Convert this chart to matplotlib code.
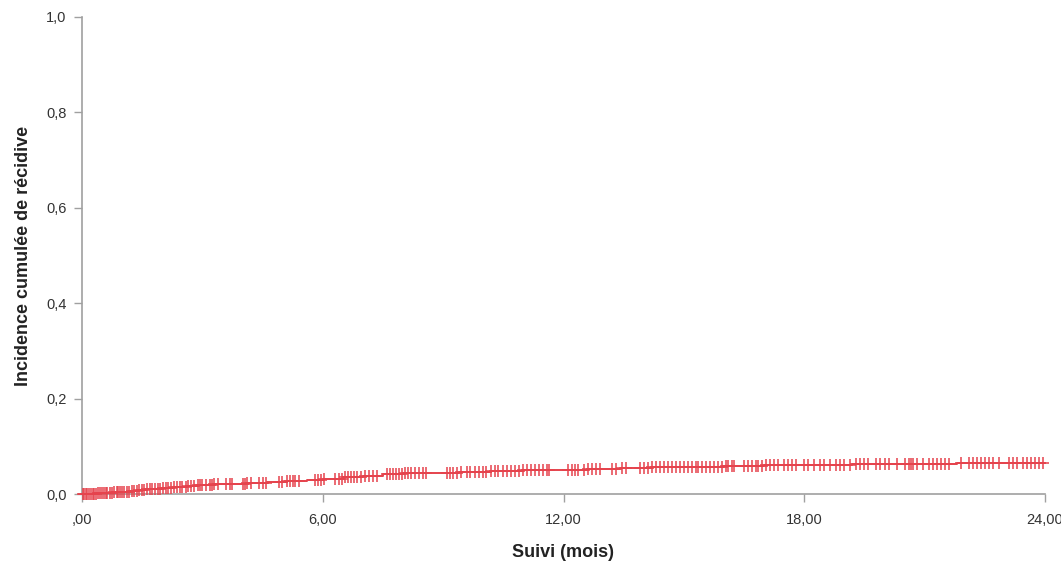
import numpy as np
import matplotlib
matplotlib.use("Agg")
import matplotlib.pyplot as plt

# Step curve: event times (months) and cumulative incidence
event_times = [0, 0.2, 0.4, 0.6, 0.8, 1.0, 1.2, 1.4, 1.6, 1.8, 2.0, 2.3, 2.6, 2.9,
               3.3, 3.7, 4.1, 4.6, 5.1, 5.6, 6.0, 6.5, 7.0, 7.5, 8.0, 8.7, 9.4,
               10.2, 11.0, 11.8, 12.6, 13.4, 14.2, 15.0, 16.0, 17.0, 18.0, 19.2,
               20.5, 21.8, 23.0]
cum_incidence = [0.0, 0.001, 0.002, 0.003, 0.004, 0.005, 0.007, 0.008, 0.010, 0.011,
                 0.013, 0.015, 0.017, 0.019, 0.020, 0.022, 0.024, 0.026, 0.028, 0.030,
                 0.032, 0.035, 0.038, 0.041, 0.043, 0.045, 0.047, 0.048, 0.050, 0.051,
                 0.053, 0.055, 0.056, 0.057, 0.058, 0.060, 0.061, 0.062, 0.063, 0.064,
                 0.066]

# Censored observation times (months)
censor_times = [0.02, 0.05, 0.1, 0.13, 0.18, 0.22, 0.27, 0.3, 0.35, 0.4, 0.44, 0.5, 0.55,
                0.6, 0.63, 0.7, 0.75, 0.8, 0.86, 0.9, 0.95, 1.0, 1.05, 1.12, 1.18, 1.25,
                1.3, 1.36, 1.42, 1.5, 1.55, 1.62, 1.7, 1.75, 1.82, 1.9, 1.95, 2.02, 2.1,
                2.15, 2.22, 2.3, 2.38, 2.45, 2.5, 2.58, 2.65, 2.72, 2.8,
                2.9, 2.95, 3.0, 3.1, 3.2, 3.25, 3.3, 3.38, 3.6, 3.68, 3.75,
                4.0, 4.05, 4.12, 4.2, 4.4, 4.5, 4.58, 4.9, 4.98, 5.1, 5.18, 5.25, 5.32,
                5.4, 5.8, 5.88, 5.95, 6.02, 6.3, 6.4, 6.48, 6.55, 6.62, 6.7, 6.78, 6.85,
                6.95, 7.05, 7.15, 7.25, 7.35, 7.6, 7.68, 7.75, 7.82, 7.9, 7.98, 8.05,
                8.12, 8.2, 8.3, 8.4, 8.5, 8.58, 9.1, 9.18, 9.25, 9.35, 9.45, 9.6, 9.68,
                9.8, 9.9, 10.0, 10.08, 10.2, 10.3, 10.38, 10.5, 10.6, 10.7, 10.8, 10.9,
                11.0, 11.1, 11.2, 11.3, 11.4, 11.5, 11.58, 11.65, 12.1, 12.2, 12.28,
                12.35, 12.5, 12.6, 12.7, 12.8, 12.9, 13.2, 13.3, 13.45, 13.55, 13.9,
                14.0, 14.1, 14.2, 14.3, 14.4, 14.5, 14.6, 14.7, 14.8, 14.9, 15.0, 15.1,
                15.2, 15.3, 15.35, 15.45, 15.55, 15.65, 15.75, 15.85, 15.95, 16.05, 16.1,
                16.2, 16.25, 16.5, 16.6, 16.7, 16.8, 16.85, 16.95, 17.05, 17.15, 17.25,
                17.35, 17.5, 17.6, 17.7, 17.8, 18.0, 18.1, 18.25, 18.4, 18.5, 18.65,
                18.8, 18.9, 19.0, 19.15, 19.3, 19.4, 19.5, 19.6, 19.8, 19.9, 20.0, 20.1,
                20.3, 20.5, 20.6, 20.65, 20.7, 20.8, 20.95, 21.1, 21.2, 21.3, 21.4, 21.5,
                21.6, 21.9, 22.1, 22.2, 22.3, 22.4, 22.5, 22.6, 22.7, 22.85, 23.1, 23.2,
                23.3, 23.45, 23.55, 23.65, 23.75, 23.85, 23.95]
end_time = 24.0

x_ticks = [0, 6, 12, 18, 24]
x_ticklabels = [",00", "6,00", "12,00", "18,00", "24,00"]
y_ticks = [0.0, 0.2, 0.4, 0.6, 0.8, 1.0]
y_ticklabels = ["0,0", "0,2", "0,4", "0,6", "0,8", "1,0"]

plt.rcParams['font.family'] = ['Liberation Sans', 'DejaVu Sans']
color = '#e5434d'

fig = plt.figure(figsize=(10.61, 5.62), dpi=100)
ax = fig.add_axes([82/1061, 1-494/562, (1045-82)/1061, (494-17)/562])

t = np.array(event_times + [end_time])
v = np.array(cum_incidence + [cum_incidence[-1]])
ax.step(t, v, where='post', color=color, lw=1.4, clip_on=False, zorder=3)

ct = np.array(censor_times)
idx = np.searchsorted(np.array(event_times), ct, side='right') - 1
cv = np.array(cum_incidence)[idx]
ax.plot(ct, cv, linestyle='none', marker='+', markersize=8, mew=1.1,
        color=color, clip_on=False, zorder=4)

ax.set_xlim(0, 24)
ax.set_ylim(0, 1.0)
ax.set_xticks(x_ticks)
ax.set_xticklabels(x_ticklabels)
ax.set_yticks(y_ticks)
ax.set_yticklabels(y_ticklabels)

for s in ['top', 'right']:
    ax.spines[s].set_visible(False)
for s in ['left', 'bottom']:
    ax.spines[s].set_color('#a0a0a0')
    ax.spines[s].set_linewidth(1.2)
ax.tick_params(axis='both', colors='#a0a0a0', length=6, width=1, labelcolor='#333333',
               labelsize=10.5)
ax.tick_params(axis='x', pad=8)
ax.tick_params(axis='y', pad=5)

ax.set_xlabel("Suivi (mois)", fontsize=13, fontweight='bold', color='#222222', labelpad=12)
ax.set_ylabel("Incidence cumulée de récidive", fontsize=13, fontweight='bold',
              color='#222222', labelpad=10)

fig.savefig("out.png", dpi=100)
